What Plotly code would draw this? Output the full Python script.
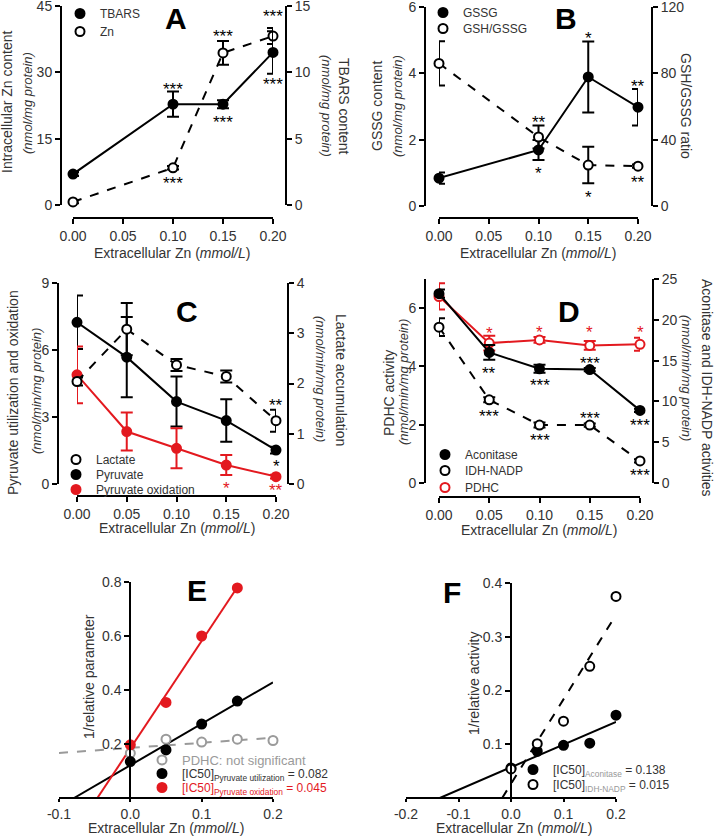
import numpy as np
import plotly.graph_objects as go

W, H = 714, 838
RED = "#e3191f"
GRAY = "#9a9a9a"
INK = "#333333"
FONT = "Liberation Sans, Arial, sans-serif"

# ---------------- data ----------------
# A: TBARS (right axis) and intracellular Zn (left axis)
zn_a = [0.00, 0.10, 0.15, 0.20]
tbars = [2.33, 7.6, 7.6, 11.5]
tbars_err = [0.15, 0.95, 0.3, 1.6]
zn_content = [0.7, 8.4, 34.4, 38.2]
zn_content_err = [0.3, 0.4, 2.7, 1.8]

# B: GSSG (left) and GSH/GSSG ratio (right)
zn_b = [0.00, 0.10, 0.15, 0.20]
gssg = [0.84, 1.69, 3.89, 2.98]
gssg_err = [0.17, 0.3, 1.07, 0.55]
gsh_gssg = [86, 41.6, 24.7, 24]
gsh_gssg_err = [13.4, 7, 11, 1]

# C: lactate (right), pyruvate and pyruvate oxidation (left)
zn_cd = [0.00, 0.05, 0.10, 0.15, 0.20]
lactate = [2.04, 3.08, 2.37, 2.14, 1.26]
lactate_err = [0.08, 0.52, 0.12, 0.12, 0.22]
pyruvate = [7.24, 5.68, 3.69, 2.84, 1.52]
pyruvate_err = [1.2, 1.8, 1.12, 0.95, 0.15]
pyr_ox = [4.89, 2.35, 1.6, 0.85, 0.33]
pyr_ox_err = [1.27, 0.85, 0.9, 0.45, 0.08]

# D: PDHC (left), aconitase and IDH-NADP (right)
pdhc = [6.4, 4.8, 4.91, 4.72, 4.76]
pdhc_err = [0.45, 0.25, 0.1, 0.15, 0.22]
aconitase = [23.2, 16.0, 14.0, 13.9, 8.9]
aconitase_err = [0.5, 0.9, 0.5, 0.2, 0.2]
idh = [19.1, 10.2, 7.1, 7.1, 2.7]
idh_err = [1.1, 0.3, 0.3, 0.2, 0.2]

# E: reciprocal plots
zn_e = [0.00, 0.05, 0.10, 0.15]
inv_pyr_util = [0.135, 0.178, 0.274, 0.359]
inv_pyr_ox = [0.197, 0.354, 0.60, 0.778]
zn_e_pdhc = [0.00, 0.05, 0.10, 0.15, 0.20]
inv_pdhc = [0.166, 0.218, 0.207, 0.218, 0.213]

# F
zn_f = [0.00, 0.05, 0.10, 0.15, 0.20]
inv_aconitase = [0.056, 0.087, 0.098, 0.102, 0.154]
inv_idh = [0.054, 0.101, 0.143, 0.245, 0.375]

X_TICKS = [0.00, 0.05, 0.10, 0.15, 0.20]

# significance stars: (x axis, y axis, x, y, text, shift px, colour)
stars = [
    ("x", "y2", 0.10, 7.6, "***", 19, "black"),
    ("x", "y2", 0.15, 7.6, "***", -14, "black"),
    ("x", "y", 0.10, 8.4, "***", -12, "black"),
    ("x", "y", 0.15, 34.4, "***", 20, "black"),
    ("x", "y", 0.20, 38.2, "***", 24, "black"),
    ("x", "y2", 0.20, 11.5, "***", -28, "black"),
    ("x2", "y3", 0.15, 3.89, "*", 42, "black"),
    ("x2", "y3", 0.20, 2.98, "**", 25, "black"),
    ("x2", "y4", 0.10, 41.6, "**", 19, "black"),
    ("x2", "y3", 0.10, 1.69, "*", -20, "black"),
    ("x2", "y4", 0.15, 24.7, "*", -28, "black"),
    ("x2", "y4", 0.20, 24, "**", -12, "black"),
    ("x3", "y6", 0.20, 1.26, "**", 19, "black"),
    ("x3", "y5", 0.20, 1.52, "*", -12, "black"),
    ("x3", "y5", 0.15, 0.85, "*", -19, RED),
    ("x3", "y5", 0.20, 0.33, "**", -10, RED),
    ("x4", "y7", 0.05, 4.8, "*", 14, RED),
    ("x4", "y7", 0.10, 4.91, "*", 11, RED),
    ("x4", "y7", 0.15, 4.72, "*", 17, RED),
    ("x4", "y7", 0.20, 4.76, "*", 16, RED),
    ("x4", "y8", 0.05, 16.0, "**", -17, "black"),
    ("x4", "y8", 0.10, 14.0, "***", -13, "black"),
    ("x4", "y8", 0.15, 13.9, "***", 10, "black"),
    ("x4", "y8", 0.20, 8.9, "***", -11, "black"),
    ("x4", "y8", 0.05, 10.2, "***", -13, "black"),
    ("x4", "y8", 0.10, 7.1, "***", -11, "black"),
    ("x4", "y8", 0.15, 7.1, "***", 11, "black"),
    ("x4", "y8", 0.20, 2.7, "***", -11, "black"),
]


def fx(px):
    return px / W


def fy(py):
    return 1 - py / H


axis_style = dict(showline=True, linecolor="black", linewidth=2, ticks="outside",
                  ticklen=5, tickwidth=2, tickcolor="black", showgrid=False,
                  zeroline=False, ticklabeloverflow="allow",
                  tickfont=dict(family=FONT, size=14, color=INK))

layout = dict(width=W, height=H, margin=dict(l=0, r=0, t=0, b=0, autoexpand=False),
              paper_bgcolor="white", plot_bgcolor="white", showlegend=True,
              font=dict(family=FONT, color=INK))
annotations = []


def x_axis(key, dom, line_y, rng, ticks, fmt, ticklen=5):
    layout[key] = dict(axis_style, domain=[fx(dom[0]), fx(dom[1])], range=rng,
                       tickvals=ticks, ticktext=[format(t, fmt) for t in ticks],
                       anchor="free", position=fy(line_y), ticklen=ticklen)


def y_axis(key, dom, rng, ticks, line_x, fmt="g", overlay=None, side="left"):
    d = dict(axis_style, domain=[fy(dom[0]), fy(dom[1])], range=rng, tickvals=ticks,
             ticktext=[format(t, fmt) for t in ticks],
             anchor="free", position=fx(line_x), side=side)
    if overlay:
        d["overlaying"] = overlay
    layout[key] = d


def y_at_zero(dom, rng):
    return dom[0] + (0 - rng[0]) / (rng[1] - rng[0]) * (dom[1] - dom[0])


def text(x, y, s, size=14, angle=0, color=INK, bold=False):
    if bold:
        s = "<b>" + s + "</b>"
    annotations.append(dict(x=fx(x), y=fy(y), xref="paper", yref="paper", text=s,
                            showarrow=False, textangle=angle, xanchor="center",
                            yanchor="middle", font=dict(family=FONT, size=size, color=color)))


def series(x, y, xa, ya, err=None, filled=True, dash="solid", color="black", size=9):
    marker = dict(size=size, color=color if filled else "white",
                  line=dict(color=color, width=2))
    tr = go.Scatter(x=x, y=y, xaxis=xa, yaxis=ya, mode="lines+markers",
                    line=dict(color=color, width=2, dash=dash), marker=marker,
                    showlegend=False, cliponaxis=False)
    if err is not None:
        tr.error_y = dict(type="data", array=err, visible=True, color=color,
                          thickness=2, width=6)
    return tr


# one plotly legend per key entry, so each row sits where the reference has it
n_legends = [0]


def key_entry(name, mx, my, filled=True, color="black", size=9, font_size=12):
    n_legends[0] += 1
    key = "legend" if n_legends[0] == 1 else f"legend{n_legends[0]}"
    layout[key] = dict(x=fx(mx - 19), y=fy(my - 13), xanchor="left", yanchor="top",
                       bgcolor="rgba(0,0,0,0)", itemwidth=30,
                       font=dict(family=FONT, size=font_size, color=INK))
    return go.Scatter(x=[None], y=[None], mode="markers", name=name, legend=key,
                      marker=dict(size=size, color=color if filled else "white",
                                  line=dict(color=color, width=2)))


fig = go.Figure()
x_title = "Extracellular Zn (<i>mmol/L</i>)"

# ---------------- A ----------------
x_axis("xaxis", (73, 273), 218, [0, 0.2], X_TICKS, ".2f")
y_axis("yaxis", (205, 6), [0, 45], [0, 15, 30, 45], 61)
y_axis("yaxis2", (205, 6), [0, 15], [0, 5, 10, 15], 286, overlay="y", side="right")
fig.add_trace(series(zn_a, zn_content, "x", "y", zn_content_err, filled=False, dash="dash"))
fig.add_trace(series(zn_a, tbars, "x", "y2", tbars_err))
fig.add_trace(key_entry("TBARS", 79, 12))
fig.add_trace(key_entry("Zn", 79, 30, filled=False))
text(7, 102, "Intracellular Zn content", angle=-90)
text(28, 103, "<i>(nmol/mg protein)</i>", size=13, angle=-90)
text(344, 106, "TBARS content", angle=90)
text(326, 106, "<i>(nmol/mg protein)</i>", size=13, angle=90)
text(172, 253, x_title)
text(176, 18, "A", size=30, color="black", bold=True)

# ---------------- B ----------------
x_axis("xaxis2", (439, 638), 218, [0, 0.2], X_TICKS, ".2f")
y_axis("yaxis3", (206, 7), [0, 6], [0, 2, 4, 6], 425)
y_axis("yaxis4", (206, 7), [0, 120], [0, 40, 80, 120], 652, overlay="y3", side="right")
fig.add_trace(series(zn_b, gsh_gssg, "x2", "y4", gsh_gssg_err, filled=False, dash="dash"))
fig.add_trace(series(zn_b, gssg, "x2", "y3", gssg_err))
fig.add_trace(key_entry("GSSG", 442, 11))
fig.add_trace(key_entry("GSH/GSSG", 442, 27, filled=False))
text(377, 106, "GSSG content", angle=-90)
text(398, 106, "<i>(nmol/mg protein)</i>", size=13, angle=-90)
text(686, 106, "GSH/GSSG ratio", angle=90)
text(538, 253, x_title)
text(566, 18, "B", size=30, color="black", bold=True)

# ---------------- C ----------------
x_axis("xaxis3", (77, 276), 496, [0, 0.2], X_TICKS, ".2f")
y_axis("yaxis5", (484, 283), [0, 9], [0, 3, 6, 9], 58)
y_axis("yaxis6", (484, 283), [0, 4], [0, 1, 2, 3, 4], 288, overlay="y5", side="right")
fig.add_trace(series(zn_cd, lactate, "x3", "y6", lactate_err, filled=False, dash="dash"))
fig.add_trace(series(zn_cd, pyruvate, "x3", "y5", pyruvate_err))
fig.add_trace(series(zn_cd, pyr_ox, "x3", "y5", pyr_ox_err, color=RED))
fig.add_trace(key_entry("Lactate", 75, 458, filled=False))
fig.add_trace(key_entry("Pyruvate", 75, 473))
fig.add_trace(key_entry("Pyruvate oxidation", 75, 488, color=RED))
text(13, 393, "Pyruvate utilization and oxidation", angle=-90)
text(36, 391, "<i>(nmol/min/mg protein)</i>", size=13, angle=-90)
text(341, 380, "Lactate accumulation", angle=90)
text(321, 379, "<i>(nmol/min/mg protein)</i>", size=13, angle=90)
text(177, 528, x_title)
text(187, 312, "C", size=30, color="black", bold=True)

# ---------------- D ----------------
x_axis("xaxis4", (439, 640), 497, [0, 0.2], X_TICKS, ".2f")
y_axis("yaxis7", (483, 279), [0, 7], [0, 2, 4, 6], 425)
y_axis("yaxis8", (483, 279), [0, 25], [0, 5, 10, 15, 20, 25], 653, overlay="y7", side="right")
fig.add_trace(series(zn_cd, idh, "x4", "y8", idh_err, filled=False, dash="dash"))
fig.add_trace(series(zn_cd, aconitase, "x4", "y8", aconitase_err))
fig.add_trace(series(zn_cd, pdhc, "x4", "y7", pdhc_err, filled=False, color=RED))
fig.add_trace(key_entry("Aconitase", 444, 453))
fig.add_trace(key_entry("IDH-NADP", 444, 469, filled=False))
fig.add_trace(key_entry("PDHC", 444, 486, filled=False, color=RED))
text(389, 393, "PDHC activity", angle=-90)
text(403, 382, "<i>(nmol/min/mg protein)</i>", size=13, angle=-90)
text(707, 388, "Aconitase and IDH-NADP activities", angle=90)
text(686, 378, "<i>(nmol/min/mg protein)</i>", size=13, angle=90)
text(539, 530, x_title)
text(569, 311, "D", size=30, color="black", bold=True)

# ---------------- E ----------------
e_dom, e_rng = (59, 273), [-0.1, 0.2]
x_axis("xaxis5", e_dom, 798, e_rng, [-0.1, 0.0, 0.1, 0.2], ".1f", ticklen=3)
y_axis("yaxis9", (798, 582), [0, 0.8], [0.2, 0.4, 0.6, 0.8],
       y_at_zero(e_dom, e_rng), fmt=".1f")


def fit_line(x, y, xa, ya, x_end, color, dash="solid", x_start=None):
    m, b = np.polyfit(x, y, 1)
    if x_start is None:
        x_start = -b / m
    xs = np.array([x_start, x_end])
    return go.Scatter(x=xs, y=m * xs + b, xaxis=xa, yaxis=ya, mode="lines",
                      line=dict(color=color, width=2, dash=dash), showlegend=False)


fig.add_trace(fit_line(zn_e_pdhc, inv_pdhc, "x5", "y9", 0.2, GRAY, "dash", x_start=-0.1))
fig.add_trace(fit_line(zn_e, inv_pyr_util, "x5", "y9", 0.2, "black"))
fig.add_trace(fit_line(zn_e, inv_pyr_ox, "x5", "y9", 0.15, RED))
for xs, ys, col, fill in [(zn_e_pdhc, inv_pdhc, GRAY, False), (zn_e, inv_pyr_util, "black", True),
                          (zn_e, inv_pyr_ox, RED, True)]:
    fig.add_trace(go.Scatter(x=xs, y=ys, xaxis="x5", yaxis="y9", mode="markers", showlegend=False,
                             cliponaxis=False,
                             marker=dict(size=9, color=col if fill else "white",
                                         line=dict(color=col, width=2))))
fig.add_trace(key_entry("<span style='color:#9a9a9a'>PDHC: not significant</span>",
                        161, 758, filled=False, color=GRAY, font_size=13))
fig.add_trace(key_entry("[IC50]<sub>Pyruvate utilization</sub> = 0.082", 161, 772))
fig.add_trace(key_entry("<span style='color:#e3191f'>[IC50]<sub>Pyruvate oxidation</sub> = 0.045</span>",
                        161, 786, color=RED))
text(89, 677, "1/relative parameter", angle=-90)
text(166, 828, x_title)
text(197, 590, "E", size=30, color="black", bold=True)

# ---------------- F ----------------
f_dom, f_rng = (406, 616), [-0.2, 0.2]
x_axis("xaxis6", f_dom, 798, f_rng, [-0.2, -0.1, 0.0, 0.1, 0.2], ".1f", ticklen=3)
y_axis("yaxis10", (798, 583), [0, 0.4], [0.1, 0.2, 0.3, 0.4],
       y_at_zero(f_dom, f_rng), fmt=".1f")
fig.add_trace(fit_line(zn_f, inv_aconitase, "x6", "y10", 0.2, "black"))
fig.add_trace(fit_line(zn_f, inv_idh, "x6", "y10", 0.2, "black", "dash"))
for ys, fill in [(inv_aconitase, True), (inv_idh, False)]:
    fig.add_trace(go.Scatter(x=zn_f, y=ys, xaxis="x6", yaxis="y10", mode="markers", showlegend=False,
                             cliponaxis=False,
                             marker=dict(size=9, color="black" if fill else "white",
                                         line=dict(color="black", width=2))))
fig.add_trace(key_entry("[IC50]<sub><span style='color:#999'>Aconitase</span></sub> = 0.138", 532, 768))
fig.add_trace(key_entry("[IC50]<sub><span style='color:#999'>IDH-NADP</span></sub> = 0.015",
                        532, 783, filled=False))
text(474, 684, "1/relative activity", angle=-90)
text(514, 828, x_title)
text(452, 592, "F", size=30, color="black", bold=True)

# significance stars, placed relative to the data points
for xa, ya, x, y, s, dy, col in stars:
    annotations.append(dict(x=x, y=y, xref=xa, yref=ya, text=s, showarrow=False,
                            yshift=dy - 4, font=dict(family=FONT, size=17, color=col)))

layout["annotations"] = annotations
fig.update_layout(**layout)
fig.write_html("out.html", config={"displayModeBar": False},
               post_script="document.body.style.margin='0';document.body.style.overflow='hidden';")
